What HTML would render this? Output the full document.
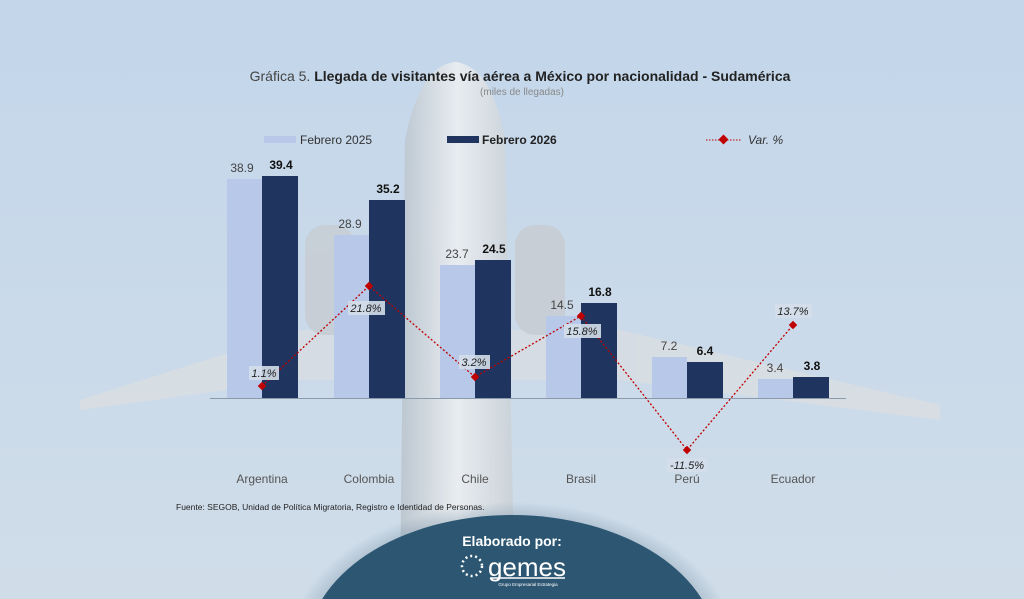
<!DOCTYPE html>
<html style="margin:0;width:1024px;height:599px;overflow:hidden"><head><meta charset="utf-8"><style>
body{margin:0;width:1024px;height:599px;overflow:hidden;background:#c8d9ea;font-family:"Liberation Sans",sans-serif;position:relative}
svg{display:block}
</style></head><body>
<svg width="1024" height="599" xmlns="http://www.w3.org/2000/svg" style="position:absolute;left:0;top:0">
<defs>
<linearGradient id="bg" x1="0" y1="0" x2="0" y2="1"><stop offset="0" stop-color="#c3d6ea"/><stop offset="1" stop-color="#d0dde9"/></linearGradient>
<linearGradient id="fus" x1="0" y1="0" x2="1" y2="0"><stop offset="0" stop-color="#b9c3cc"/><stop offset="0.5" stop-color="#eef0f2"/><stop offset="1" stop-color="#c9d0d6"/></linearGradient>
<radialGradient id="sh" cx="0.5" cy="0.5" r="0.5"><stop offset="0.85" stop-color="#6f8aa0" stop-opacity="0.5"/><stop offset="1" stop-color="#6f8aa0" stop-opacity="0"/></radialGradient>
</defs>
<rect width="1024" height="599" fill="url(#bg)"/>
<g opacity="0.85">
<polygon points="80,400 300,330 620,330 940,405 940,420 620,380 300,380 80,410" fill="#d8dde2"/>
<path d="M400,599 L405,140 Q420,65 455,62 Q492,66 505,140 L515,599 Z" fill="url(#fus)"/>
<rect x="305" y="225" width="50" height="110" rx="20" fill="#c7cdd3"/>
<rect x="515" y="225" width="50" height="110" rx="20" fill="#c7cdd3"/>
</g>
<ellipse cx="512" cy="650" rx="225" ry="148" fill="url(#sh)"/>
<ellipse cx="512" cy="650" rx="205" ry="135" fill="#2c5672"/>
<text x="512" y="546" font-size="14" font-weight="bold" fill="#fff" text-anchor="middle">Elaborado por:</text>
<text x="527" y="576" font-size="26" fill="#fff" text-anchor="middle">gemes</text>
<line x1="490" y1="578" x2="565" y2="578" stroke="#fff" stroke-width="1.5"/>
<text x="528" y="586" font-size="4.5" fill="#fff" text-anchor="middle">Grupo Empresarial Estrategia</text>
<circle cx="472" cy="566" r="10" fill="none" stroke="#fff" stroke-width="2.5" stroke-dasharray="2 3"/>
<text x="520" y="81" font-size="14" text-anchor="middle" fill="#222"><tspan fill="#444">Gráfica 5. </tspan><tspan font-weight="bold">Llegada de visitantes vía aérea a México por nacionalidad - Sudamérica</tspan></text>
<text x="522" y="95" font-size="10" text-anchor="middle" fill="#888">(miles de llegadas)</text>
<rect x="264" y="136" width="32" height="7" fill="#b8c8e8"/>
<text x="300" y="144" font-size="12" fill="#333">Febrero 2025</text>
<rect x="447" y="136" width="32" height="7" fill="#1f3560"/>
<text x="482" y="144" font-size="12" font-weight="bold" fill="#222">Febrero 2026</text>
<line x1="706" y1="140" x2="742" y2="140" stroke="#c00000" stroke-dasharray="1.5 1.5"/>
<rect x="720" y="136" width="7" height="7" fill="#c00000" transform="rotate(45 723.5 139.5)"/>
<text x="748" y="144" font-size="12" font-style="italic" fill="#333">Var. %</text>
<g fill="#b8c8e8">
<rect x="227" y="179" width="35" height="219"/>
<rect x="334" y="235" width="35" height="163"/>
<rect x="440" y="265" width="35" height="133"/>
<rect x="546" y="316" width="35" height="82"/>
<rect x="652" y="357" width="35" height="41"/>
<rect x="758" y="379" width="35" height="19"/>
</g>
<g fill="#1f3560">
<rect x="262" y="176" width="36" height="222"/>
<rect x="369" y="200" width="36" height="198"/>
<rect x="475" y="260" width="36" height="138"/>
<rect x="581" y="303" width="36" height="95"/>
<rect x="687" y="362" width="36" height="36"/>
<rect x="793" y="377" width="36" height="21"/>
</g>
<line x1="210" y1="398.5" x2="846" y2="398.5" stroke="#8a9aaa"/>
<g font-size="12" fill="#444" text-anchor="middle">
<text x="242" y="172">38.9</text><text x="350" y="228">28.9</text><text x="457" y="258">23.7</text>
<text x="562" y="309">14.5</text><text x="669" y="350">7.2</text><text x="775" y="372">3.4</text>
</g>
<g font-size="12" font-weight="bold" fill="#111" text-anchor="middle">
<text x="281" y="169">39.4</text><text x="388" y="193">35.2</text><text x="494" y="253">24.5</text>
<text x="600" y="296">16.8</text><text x="705" y="355">6.4</text><text x="812" y="370">3.8</text>
</g>
<polyline points="262,386 369,286 475,377 581,316 687,450 793,325" fill="none" stroke="#c00000" stroke-width="1.3" stroke-dasharray="2 2"/>
<g fill="#c00000">
<rect x="259" y="383" width="6" height="6" transform="rotate(45 262 386)"/>
<rect x="366" y="283" width="6" height="6" transform="rotate(45 369 286)"/>
<rect x="472" y="374" width="6" height="6" transform="rotate(45 475 377)"/>
<rect x="578" y="313" width="6" height="6" transform="rotate(45 581 316)"/>
<rect x="684" y="447" width="6" height="6" transform="rotate(45 687 450)"/>
<rect x="790" y="322" width="6" height="6" transform="rotate(45 793 325)"/>
</g>
<g fill="#d4deea" opacity="0.9">
<rect x="249" y="366" width="30" height="14"/><rect x="348" y="301" width="37" height="14"/>
<rect x="459" y="355" width="31" height="14"/><rect x="564" y="324" width="37" height="14"/>
<rect x="667" y="458" width="40" height="14"/><rect x="775" y="304" width="37" height="14"/>
</g>
<g font-size="11" font-style="italic" fill="#222" text-anchor="middle">
<text x="264" y="377">1.1%</text><text x="366" y="312">21.8%</text><text x="474" y="366">3.2%</text>
<text x="582" y="335">15.8%</text><text x="687" y="469">-11.5%</text><text x="793" y="315">13.7%</text>
</g>
<g font-size="12" fill="#555" text-anchor="middle">
<text x="262" y="483">Argentina</text><text x="369" y="483">Colombia</text><text x="475" y="483">Chile</text>
<text x="581" y="483">Brasil</text><text x="687" y="483">Perú</text><text x="793" y="483">Ecuador</text>
</g>
<text x="176" y="510" font-size="8.5" fill="#222">Fuente: SEGOB, Unidad de Política Migratoria, Registro e Identidad de Personas.</text>
</svg>
</body></html>
